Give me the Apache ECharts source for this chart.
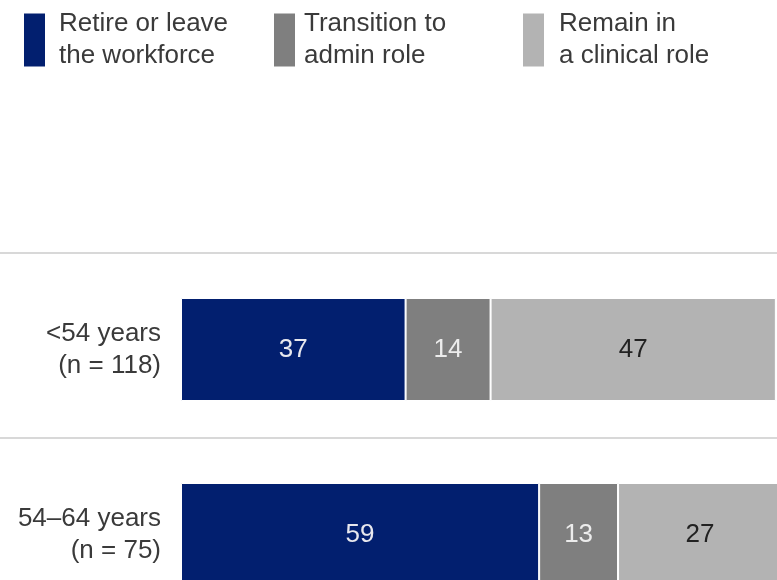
<!DOCTYPE html>
<html>
<head>
<meta charset="utf-8">
<script src="https://cdn.jsdelivr.net/npm/echarts@6/dist/echarts.min.js"></script>
<style>
html,body{margin:0;padding:0;background:#fff;}
#chart{width:777px;height:580px;}
</style>
</head>
<body>
<div id="chart"></div>
<script>
const categories = ['<54 years\n(n = 118)', '54\u201364 years\n(n = 75)'];
const seriesNames = ['Retire or leave\nthe workforce', 'Transition to\nadmin role', 'Remain in\na clinical role'];
const retire = [37, 59];
const admin = [14, 13];
const clinical = [47, 27];

const colors = ['#021f6f', '#7f7f7f', '#b3b3b3'];
const labelColors = ['#e8e8ee', '#ececec', '#222222'];
const FONT = "'Liberation Sans', Arial, sans-serif";

const chart = echarts.init(document.getElementById('chart'), null, {renderer: 'canvas'});

function legend(i, left, pad) {
  return {
    data: [seriesNames[i]],
    left: left, top: 8, padding: 0,
    icon: 'rect', itemWidth: 23, itemHeight: 55,
    selectedMode: false,
    textStyle: {fontFamily: FONT, fontSize: 26, color: '#3a3a3a', lineHeight: 32, padding: [0, 0, 0, pad]}
  };
}

const valuesList = [retire, admin, clinical];

chart.setOption({
  animation: false,
  color: colors,
  legend: [legend(0, 22, 8), legend(1, 272, 3), legend(2, 521, 9)],
  grid: [
    {left: 181, right: -11, top: 257, height: 370, outerBoundsMode: 'none', containLabel: false},
    {left: 0, right: 0, top: 253, height: 370, outerBoundsMode: 'none', containLabel: false}
  ],
  xAxis: [
    {type: 'value', gridIndex: 0, min: 0, max: 100, show: false},
    {type: 'value', gridIndex: 1, min: 0, max: 100, show: false}
  ],
  yAxis: [
    {
      type: 'category', gridIndex: 0, data: categories, inverse: true,
      axisLine: {show: false}, axisTick: {show: false}, splitLine: {show: false},
      axisLabel: {fontFamily: FONT, fontSize: 26, color: '#3a3a3a', lineHeight: 32, margin: 20, align: 'right'}
    },
    {
      type: 'category', gridIndex: 1, data: categories, inverse: true,
      axisLine: {show: false}, axisTick: {show: false}, axisLabel: {show: false},
      splitLine: {show: true, lineStyle: {color: '#d8d8d8', width: 2}}
    }
  ],
  series: valuesList.map((vals, i) => ({
    name: seriesNames[i],
    type: 'bar', stack: 'total',
    xAxisIndex: 0, yAxisIndex: 0,
    barWidth: 103,
    data: vals,
    itemStyle: {color: colors[i], borderColor: '#ffffff', borderWidth: 1},
    label: {show: true, position: 'inside', fontFamily: FONT, fontSize: 26, color: labelColors[i]}
  }))
});
</script>
</body>
</html>
